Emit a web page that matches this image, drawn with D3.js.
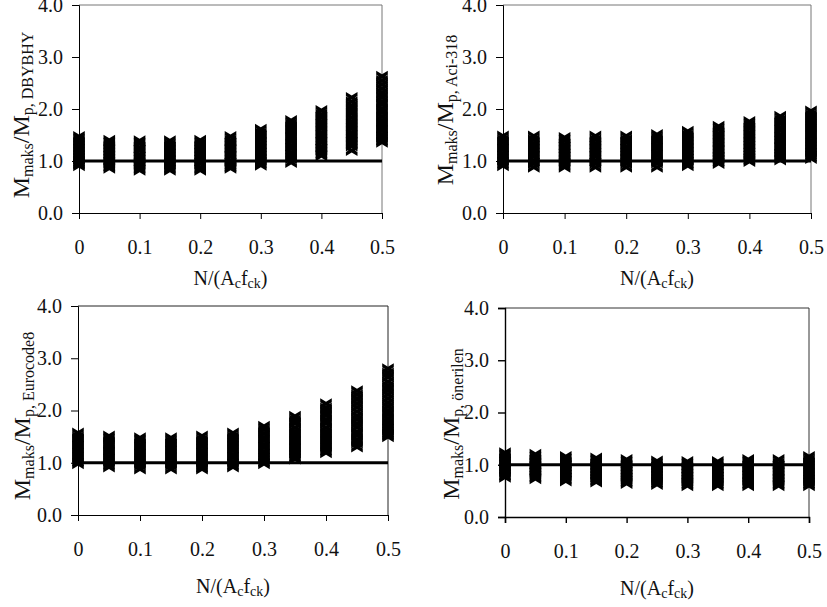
<!DOCTYPE html>
<html>
<head>
<meta charset="utf-8">
<script src="https://cdn.jsdelivr.net/npm/d3@7"></script>
<style>
  body { margin: 0; background: #fff; }
  text { font-family: "Liberation Serif", serif; fill: #111; }
</style>
</head>
<body>
<div id="chart"></div>
<script>
// ratio values, one list per N/(Ac fck) column. the columns are solid black in
// the picture so only the ends are really readable, the inside is estimated
var ratioSteps = [0, 0.05, 0.1, 0.15, 0.2, 0.25, 0.3, 0.35, 0.4, 0.45, 0.5];
var xTicks = [0, 0.1, 0.2, 0.3, 0.4, 0.5];
var yTicks = [0, 1, 2, 3, 4];
var referenceLine = [1, 1];

var dbybhy = [
  [1.47,1.41,1.35,1.28,1.22,1.16,1.10,1.05,0.99,0.95,0.91],
  [1.40,1.34,1.27,1.21,1.15,1.09,1.03,0.97,0.91,0.86],
  [1.39,1.33,1.26,1.20,1.13,1.07,1.01,0.94,0.88,0.82],
  [1.39,1.32,1.26,1.19,1.13,1.06,1.00,0.94,0.88,0.82],
  [1.40,1.33,1.27,1.20,1.14,1.07,1.01,0.95,0.88,0.82],
  [1.47,1.40,1.34,1.27,1.21,1.14,1.08,1.01,0.95,0.90,0.86],
  [1.61,1.54,1.48,1.41,1.34,1.28,1.21,1.15,1.08,1.02,0.97,0.92],
  [1.78,1.71,1.64,1.57,1.50,1.44,1.37,1.30,1.24,1.17,1.11,1.05,0.97],
  [1.97,1.90,1.83,1.76,1.69,1.62,1.55,1.48,1.41,1.35,1.28,1.22,1.16,1.10],
  [2.22,2.14,2.06,1.98,1.91,1.83,1.76,1.69,1.62,1.55,1.48,1.41,1.35,1.29,1.20],
  [2.63,2.55,2.47,2.39,2.31,2.23,2.15,2.08,2.00,1.93,1.85,1.78,1.71,1.64,1.58,1.51,1.46,1.41,1.36]
];
var aci318 = [
  [1.48,1.41,1.35,1.28,1.22,1.15,1.09,1.03,0.97,0.91],
  [1.48,1.41,1.34,1.28,1.21,1.14,1.08,1.01,0.95,0.88],
  [1.45,1.39,1.32,1.26,1.19,1.13,1.07,1.00,0.94,0.88],
  [1.48,1.41,1.34,1.28,1.21,1.14,1.08,1.01,0.95,0.88],
  [1.48,1.41,1.35,1.28,1.21,1.15,1.08,1.02,0.95,0.88],
  [1.51,1.44,1.37,1.30,1.24,1.17,1.10,1.03,0.96,0.88],
  [1.57,1.50,1.43,1.36,1.29,1.22,1.16,1.09,1.03,0.97,0.91],
  [1.67,1.60,1.53,1.46,1.39,1.32,1.25,1.19,1.12,1.06,1.01,0.95],
  [1.76,1.69,1.62,1.55,1.48,1.41,1.34,1.28,1.21,1.15,1.09,1.04,0.99],
  [1.86,1.79,1.72,1.65,1.58,1.51,1.44,1.38,1.31,1.25,1.18,1.12,1.07,1.02],
  [1.96,1.89,1.82,1.75,1.68,1.61,1.54,1.47,1.40,1.33,1.27,1.20,1.14,1.09,1.05]
];
var eurocode8 = [
  [1.57,1.50,1.44,1.37,1.31,1.24,1.17,1.11,1.04,0.98],
  [1.51,1.45,1.38,1.32,1.25,1.19,1.12,1.05,0.98,0.92],
  [1.48,1.42,1.35,1.29,1.22,1.16,1.09,1.02,0.95,0.88],
  [1.48,1.41,1.35,1.28,1.22,1.15,1.08,1.01,0.95,0.88],
  [1.51,1.44,1.38,1.31,1.24,1.18,1.11,1.04,0.97,0.92,0.88],
  [1.57,1.50,1.43,1.37,1.30,1.23,1.16,1.10,1.03,0.97,0.92],
  [1.70,1.63,1.56,1.49,1.42,1.35,1.29,1.22,1.15,1.09,1.03,0.98],
  [1.89,1.82,1.75,1.67,1.60,1.53,1.46,1.39,1.32,1.26,1.19,1.13,1.07],
  [2.13,2.05,1.97,1.90,1.82,1.75,1.67,1.60,1.53,1.46,1.39,1.32,1.25,1.19],
  [2.38,2.30,2.22,2.14,2.06,1.98,1.90,1.83,1.75,1.68,1.60,1.53,1.45,1.38,1.30],
  [2.80,2.72,2.64,2.55,2.47,2.39,2.31,2.23,2.15,2.07,1.99,1.92,1.84,1.77,1.70,1.64,1.58,1.54,1.50]
];
var onerilen = [
  [1.23,1.17,1.11,1.05,0.99,0.93,0.87,0.81,0.76],
  [1.20,1.14,1.08,1.02,0.96,0.90,0.84,0.78,0.73],
  [1.16,1.10,1.04,0.98,0.92,0.86,0.80,0.74,0.69],
  [1.13,1.07,1.01,0.95,0.89,0.83,0.77,0.72,0.67],
  [1.10,1.04,0.98,0.92,0.86,0.80,0.74,0.69,0.64],
  [1.07,1.01,0.95,0.89,0.83,0.78,0.72,0.67,0.62],
  [1.06,1.00,0.94,0.88,0.82,0.76,0.70,0.65,0.60],
  [1.06,1.00,0.94,0.88,0.82,0.76,0.70,0.65,0.60],
  [1.10,1.04,0.97,0.91,0.84,0.78,0.71,0.65,0.60],
  [1.10,1.03,0.97,0.90,0.84,0.77,0.71,0.65,0.60],
  [1.16,1.09,1.03,0.96,0.89,0.83,0.76,0.70,0.65,0.60]
];

var panels = [
  { values: dbybhy, sub: "p, DBYBHY", left: 79, right: 382, top: 5, bottom: 213, labelX: 29, labelY: 115, titleGap: 72, edge: "#777", axisWidth: 1 },
  { values: aci318, sub: "p, Aci-318", left: 503, right: 811, top: 5, bottom: 213, labelX: 453, labelY: 110, titleGap: 72, edge: "#777", axisWidth: 1 },
  { values: eurocode8, sub: "p, Eurocode8", left: 78, right: 388, top: 306, bottom: 515, labelX: 30, labelY: 416, titleGap: 78, edge: "#222", axisWidth: 1 },
  { values: onerilen, sub: "p, önerilen", left: 505, right: 809, top: 308, bottom: 517, labelX: 459, labelY: 424, titleGap: 78, edge: "#333", axisWidth: 1.4 }
];

var svg = d3.select("#chart").append("svg")
  .attr("width", 827)
  .attr("height", 607)
  .style("display", "block");

// filled x marker, the arm ends are cut straight so stacked ones make a clean column
var flatX = {
  draw: function(context, size) {
    var w = 5.8, h = 3.5, a = 2;
    var inner = a * w / h;
    context.moveTo(-w, -h - a);
    context.lineTo(0, -a);
    context.lineTo(w, -h - a);
    context.lineTo(w, -h + a);
    context.lineTo(inner, 0);
    context.lineTo(w, h - a);
    context.lineTo(w, h + a);
    context.lineTo(0, a);
    context.lineTo(-w, h + a);
    context.lineTo(-w, h - a);
    context.lineTo(-inner, 0);
    context.lineTo(-w, -h + a);
    context.closePath();
  }
};
var marker = d3.symbol().type(flatX);

panels.forEach(function(p) {
  var xScale = d3.scaleLinear().domain([0, 0.5]).range([p.left, p.right]);
  var yScale = d3.scaleLinear().domain([0, 4]).range([p.bottom, p.top]);
  var g = svg.append("g");

  // top and right edge of the plot
  g.append("path")
    .attr("d", "M" + p.left + "," + p.top + "H" + p.right + "V" + p.bottom)
    .attr("fill", "none")
    .attr("stroke", p.edge)
    .attr("stroke-width", 1);

  var xAxis = d3.axisBottom(xScale)
    .tickValues(xTicks)
    .tickSize(6)
    .tickPadding(21)
    .tickFormat(function(d) { return d === 0 ? "0" : d3.format(".1f")(d); });
  var yAxis = d3.axisLeft(yScale)
    .tickValues(yTicks)
    .tickSize(7)
    .tickPadding(9)
    .tickFormat(d3.format(".1f"));

  g.append("g").attr("transform", "translate(0," + p.bottom + ")").call(xAxis);
  g.append("g").attr("transform", "translate(" + p.left + ",0)").call(yAxis);
  g.selectAll(".tick text").attr("font-size", 20).attr("font-family", "Liberation Serif");
  g.selectAll(".domain, .tick line").attr("stroke", "#000").attr("stroke-width", p.axisWidth);

  var columns = g.selectAll(".column")
    .data(p.values)
    .enter().append("g")
    .attr("class", "column");

  columns.selectAll("path")
    .data(function(d, i) {
      return d.map(function(v) { return { x: ratioSteps[i], y: v }; });
    })
    .enter().append("path")
    .attr("d", marker)
    .attr("transform", function(d) {
      return "translate(" + xScale(d.x) + "," + yScale(d.y) + ")";
    })
    .attr("fill", "#000");

  var line = d3.line()
    .x(function(d, i) { return xScale(i * 0.5); })
    .y(function(d) { return yScale(d); });

  g.append("path")
    .datum(referenceLine)
    .attr("d", line)
    .attr("fill", "none")
    .attr("stroke", "#000")
    .attr("stroke-width", 3.2);

  // x title
  var xTitle = g.append("text")
    .attr("x", (p.left + p.right) / 2)
    .attr("y", p.bottom + p.titleGap)
    .attr("text-anchor", "middle")
    .attr("font-size", 20);
  xTitle.append("tspan").text("N/(A");
  xTitle.append("tspan").attr("font-size", 14).attr("dy", 3).text("c");
  xTitle.append("tspan").attr("dy", -3).text("f");
  xTitle.append("tspan").attr("font-size", 14).attr("dy", 3).text("ck");
  xTitle.append("tspan").attr("dy", -3).text(")");

  // y title
  var yTitle = g.append("text")
    .attr("transform", "translate(" + p.labelX + "," + p.labelY + ") rotate(-90)")
    .attr("text-anchor", "middle")
    .attr("font-size", 24);
  yTitle.append("tspan").text("M");
  yTitle.append("tspan").attr("font-size", 16).attr("dy", 4).text("maks");
  yTitle.append("tspan").attr("dy", -4).text("/M");
  yTitle.append("tspan").attr("font-size", 16).attr("dy", 4).text(p.sub);
});
</script>
</body>
</html>
